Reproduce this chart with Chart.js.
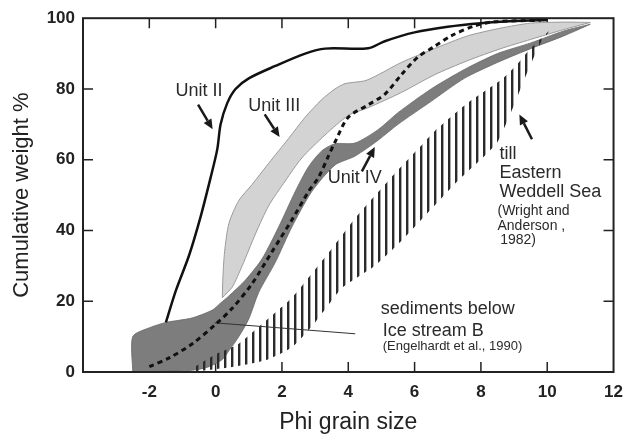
<!DOCTYPE html>
<html lang="en">
<head>
    <meta charset="UTF-8">
    <title>Cumulative weight vs Phi grain size</title>
    <script src="https://cdn.jsdelivr.net/npm/chart.js"></script>
    <style>
        html, body {
            margin: 0;
            background: #fff;
        }
        #wrap {
            width: 633px;
            height: 439px;
        }
    </style>
</head>
<body>
    <div id="wrap"><canvas id="grainChart" width="633" height="439"></canvas></div>

    <script>
        // Кривые: [phi, cumulative %]
        const unit2Line = [[-1.5, 14], [-1.2, 23], [-0.8, 33], [-0.45, 44], [-0.15, 55], [0.05, 63], [0.15, 70],
            [0.35, 76], [0.6, 80], [1.0, 83], [1.8, 86.5], [2.7, 90], [3.3, 91.4], [4.6, 91.5], [5.1, 93.5],
            [6.0, 96], [7.0, 97.6], [8.0, 98.6], [9.0, 99.2], [10.0, 99.5]];

        const unit3Upper = [[0.2, 21], [0.22, 27], [0.27, 34], [0.4, 42], [0.7, 48.5], [1.1, 53], [1.6, 59],
            [2.2, 66], [2.7, 72], [3.2, 77], [3.6, 80], [3.9, 81.5], [4.5, 82.3], [4.9, 84], [5.6, 87.5],
            [6.6, 91.4], [7.6, 95], [8.6, 97.2], [9.5, 98.6], [10.5, 98.9], [11.3, 98.8]];
        const unit3Lower = [[11.3, 98.8], [10.5, 96.8], [9.5, 94], [8.6, 91.4], [7.6, 88], [6.6, 84], [5.6, 79],
            [4.6, 74.7], [4.0, 72.5], [3.3, 67], [2.6, 60.5], [2.1, 54], [1.6, 47], [1.2, 39], [0.8, 30],
            [0.5, 24], [0.2, 21]];

        const unit4Upper = [[-2.5, 0], [-2.5, 10], [-2.0, 12.5], [-1.5, 14], [-0.7, 15.3], [-0.1, 17.5],
            [0.15, 19.5], [0.4, 21.5], [0.9, 26], [1.4, 32], [1.9, 41], [2.4, 51], [2.8, 58], [3.2, 62.5],
            [3.6, 64.5], [4.2, 64.7], [4.9, 68.5], [5.5, 73.3], [6.5, 80], [7.5, 85.5], [8.5, 90],
            [9.5, 93], [10.5, 96.4], [11.3, 98.3]];
        const unit4Lower = [[11.3, 98.3], [10.5, 95], [9.5, 91.4], [8.5, 87.5], [7.5, 83], [6.5, 76.5],
            [5.5, 70], [4.9, 65.5], [4.2, 61], [3.6, 58.5], [2.9, 51], [2.3, 41], [1.8, 31], [1.3, 22.5],
            [1.0, 15], [0.7, 10], [0.4, 6], [0.2, 3.5], [-0.2, 1.5], [-0.7, 0.5], [-2.5, 0]];

        const iceStreamB = [[-2.0, 1.5], [-1.4, 4], [-0.7, 8], [0, 13.5], [0.5, 18], [1.1, 25], [1.7, 34],
            [2.3, 43], [2.8, 51], [3.1, 55], [3.4, 61], [3.6, 65], [4.0, 72], [4.6, 75.5], [5.1, 78.5],
            [5.6, 84], [6.1, 89], [6.6, 92], [7.1, 95], [7.8, 97.8], [8.4, 99], [9.8, 99.4]];

        const tillUpper = [[-0.7, 1], [0, 5], [0.7, 8], [1.5, 14.4], [2.3, 21], [3.0, 29], [3.6, 36],
            [4.3, 44.5], [5.3, 55], [6.1, 63], [6.6, 68], [7.6, 76], [8.6, 82.5], [9.1, 87], [9.5, 91.5],
            [9.9, 95], [10.2, 97.8]];
        const tillLower = [[10.2, 97.8], [9.8, 93], [9.4, 84.7], [9.0, 75.5], [8.5, 65], [8.1, 61],
            [7.3, 54], [6.2, 43], [5.6, 37], [4.8, 30], [3.8, 23.6], [3.0, 14], [2.3, 7], [1.5, 3.3],
            [0.5, 1.4], [-0.7, 0]];

        const pointerLine = [[-0.03, 13.9], [4.21, 10.8]];

        const xTicks = [-2, 0, 2, 4, 6, 8, 10, 12];
        const yTicks = [0, 20, 40, 60, 80, 100];

        const toXY = arr => arr.map(p => ({ x: p[0], y: p[1] }));

        const FONT = "'Liberation Sans', Arial, Helvetica, sans-serif";
        const INK = '#222';

        // штриховка вертикальными линиями
        const hatchCanvas = document.createElement('canvas');
        hatchCanvas.width = 7;
        hatchCanvas.height = 4;
        const hctx = hatchCanvas.getContext('2d');
        hctx.fillStyle = '#2a2a2a';
        hctx.fillRect(0, 0, 2.4, 4);
        const hatch = hctx.createPattern(hatchCanvas, 'repeat');

        // подписи и стрелки на поле графика (в координатах данных)
        const notes = [
            { text: 'Unit II', x: -1.21, y: 79.4, size: 18 },
            { text: 'Unit III', x: 0.98, y: 75.3, size: 18 },
            { text: 'Unit IV', x: 3.38, y: 54.7, size: 18 },
            { text: 'till', x: 8.56, y: 61.7, size: 18 },
            { text: 'Eastern', x: 8.56, y: 56.1, size: 18 },
            { text: 'Weddell Sea', x: 8.56, y: 50.8, size: 18 },
            { text: '(Wright and', x: 8.5, y: 45.6, size: 14 },
            { text: 'Anderson ,', x: 8.5, y: 41.1, size: 14 },
            { text: '1982)', x: 8.58, y: 37.2, size: 14 },
            { text: 'sediments below', x: 4.98, y: 17.8, size: 18 },
            { text: 'Ice stream B', x: 5.04, y: 11.7, size: 18 },
            { text: '(Engelhardt et al., 1990)', x: 5.04, y: 7.2, size: 13 }
        ];
        const arrows = [
            [-0.53, 75.6, -0.09, 68.6],
            [1.48, 72.8, 1.93, 66.4],
            [4.41, 56.7, 4.8, 63.6],
            [9.54, 65.8, 9.16, 72.8]
        ];

        const framePlugin = {
            id: 'frame',
            beforeDatasetsDraw(chart) {
                const { ctx, chartArea: a, scales: { x, y } } = chart;
                ctx.save();
                ctx.strokeStyle = INK;
                ctx.lineWidth = 1.5;
                xTicks.slice(0, -1).forEach(v => {
                    const px = x.getPixelForValue(v);
                    ctx.beginPath();
                    ctx.moveTo(px, a.bottom); ctx.lineTo(px, a.bottom - 10);
                    ctx.moveTo(px, a.top); ctx.lineTo(px, a.top + 10);
                    ctx.stroke();
                });
                yTicks.slice(1, -1).forEach(v => {
                    const py = y.getPixelForValue(v);
                    ctx.beginPath();
                    ctx.moveTo(a.left, py); ctx.lineTo(a.left + 10, py);
                    ctx.moveTo(a.right, py); ctx.lineTo(a.right - 10, py);
                    ctx.stroke();
                });
                ctx.restore();
            },
            afterDatasetsDraw(chart) {
                const { ctx, chartArea: a, scales: { x, y } } = chart;
                ctx.save();
                ctx.strokeStyle = INK;
                ctx.lineWidth = 2;
                ctx.strokeRect(a.left, a.top, a.right - a.left, a.bottom - a.top);

                ctx.fillStyle = '#2a2a2a';
                ctx.textBaseline = 'middle';
                ctx.textAlign = 'left';
                notes.forEach(n => {
                    ctx.font = n.size + 'px ' + FONT;
                    ctx.fillText(n.text, x.getPixelForValue(n.x), y.getPixelForValue(n.y));
                });

                ctx.strokeStyle = '#1a1a1a';
                ctx.fillStyle = '#1a1a1a';
                ctx.lineWidth = 2.5;
                arrows.forEach(([x0, y0, x1, y1]) => {
                    const ax = x.getPixelForValue(x0), ay = y.getPixelForValue(y0);
                    const bx = x.getPixelForValue(x1), by = y.getPixelForValue(y1);
                    const ang = Math.atan2(by - ay, bx - ax);
                    const hl = 10, hw = 4.5;
                    const cx = bx - hl * Math.cos(ang), cy = by - hl * Math.sin(ang);
                    ctx.beginPath();
                    ctx.moveTo(ax, ay); ctx.lineTo(cx, cy);
                    ctx.stroke();
                    ctx.beginPath();
                    ctx.moveTo(bx, by);
                    ctx.lineTo(cx + hw * Math.sin(ang), cy - hw * Math.cos(ang));
                    ctx.lineTo(cx - hw * Math.sin(ang), cy + hw * Math.cos(ang));
                    ctx.closePath();
                    ctx.fill();
                });
                ctx.restore();
            }
        };

        const ctx = document.getElementById('grainChart').getContext('2d');
        const grainChart = new Chart(ctx, {
            type: 'line',
            data: {
                datasets: [
                    {
                        label: 'Unit II',
                        data: toXY(unit2Line),
                        borderColor: '#111',
                        borderWidth: 2.5,
                        tension: 0.3,
                        fill: false,
                        order: 0
                    },
                    {
                        label: 'sediments below Ice stream B',
                        data: toXY(iceStreamB),
                        borderColor: '#111',
                        borderWidth: 3,
                        borderDash: [5, 4],
                        tension: 0.3,
                        fill: false,
                        order: 1
                    },
                    {
                        label: 'pointer',
                        data: toXY(pointerLine),
                        borderColor: '#333',
                        borderWidth: 1,
                        fill: false,
                        order: 2
                    },
                    {
                        label: 'till Eastern Weddell Sea',
                        data: toXY(tillUpper.concat(tillLower)),
                        borderWidth: 0,
                        borderColor: 'rgba(0,0,0,0)',
                        backgroundColor: hatch,
                        tension: 0.2,
                        fill: 'shape',
                        order: 3
                    },
                    {
                        label: 'Unit IV',
                        data: toXY(unit4Upper.concat(unit4Lower)),
                        borderColor: '#6a6a6a',
                        borderWidth: 0.8,
                        backgroundColor: '#7d7d7d',
                        tension: 0.25,
                        fill: 'shape',
                        order: 4
                    },
                    {
                        label: 'Unit III',
                        data: toXY(unit3Upper.concat(unit3Lower)),
                        borderColor: '#9a9a9a',
                        borderWidth: 1,
                        backgroundColor: '#d3d3d3',
                        tension: 0.25,
                        fill: 'shape',
                        order: 5
                    }
                ]
            },
            options: {
                responsive: false,
                animation: false,
                layout: {
                    padding: { top: 12, right: 10, left: 0, bottom: 0 }
                },
                elements: {
                    point: { radius: 0 }
                },
                plugins: {
                    legend: { display: false },
                    tooltip: { enabled: false }
                },
                scales: {
                    x: {
                        type: 'linear',
                        min: -4,
                        max: 12,
                        afterFit(scale) { scale.height = 67; },
                        grid: { display: false, drawTicks: false },
                        border: { display: false },
                        ticks: {
                            stepSize: 2,
                            autoSkip: false,
                            maxRotation: 0,
                            padding: 10,
                            color: INK,
                            font: { family: FONT, size: 17, weight: 'bold' },
                            callback: v => (v === -4 ? '' : v)
                        },
                        title: {
                            display: true,
                            text: 'Phi grain size',
                            color: INK,
                            padding: { top: 0, bottom: 3 },
                            font: { family: FONT, size: 23 }
                        }
                    },
                    y: {
                        min: 0,
                        max: 100,
                        afterFit(scale) { scale.width = 83; },
                        grid: { display: false, drawTicks: false },
                        border: { display: false },
                        ticks: {
                            stepSize: 20,
                            padding: 8,
                            color: INK,
                            font: { family: FONT, size: 17, weight: 'bold' }
                        },
                        title: {
                            display: true,
                            text: 'Cumulative weight %',
                            color: INK,
                            padding: { top: 9, bottom: 0 },
                            font: { family: FONT, size: 22 }
                        }
                    }
                }
            },
            plugins: [framePlugin]
        });
    </script>
</body>
</html>
